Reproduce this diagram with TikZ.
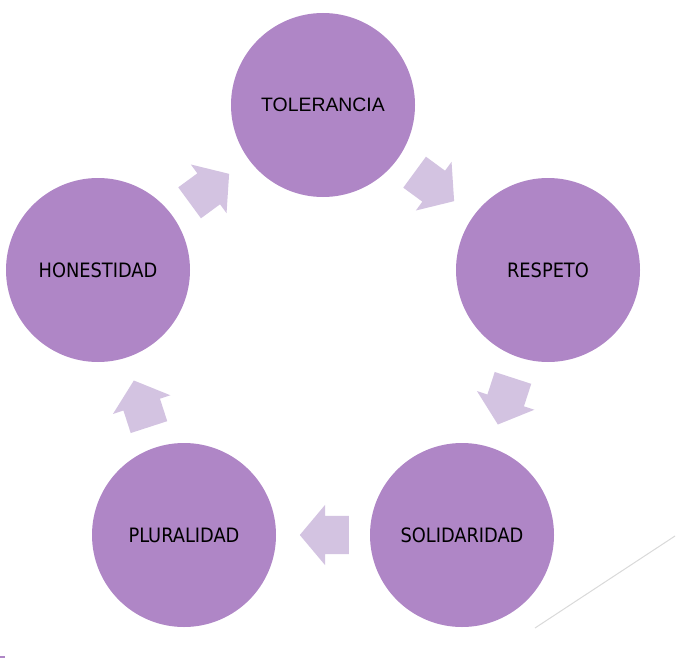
\documentclass[tikz,border=0pt]{standalone}
\usepackage{fontspec}
\setmainfont{DejaVu Sans Condensed}
\newfontfamily\arialfont{Liberation Sans}
\usetikzlibrary{shapes.arrows}

\definecolor{lila}{RGB}{175,134,198}
\definecolor{lilaclaro}{RGB}{211,195,225}
\definecolor{lineagris}{RGB}{217,217,217}

\begin{document}
\begin{tikzpicture}[x=1pt, y=-1pt,
  valor/.style={circle, fill=lila, minimum size=184pt, inner sep=0pt, text=black,
    font=\fontsize{19.8}{22}\selectfont},
  flecha/.style={single arrow, fill=lilaclaro, minimum height=49pt,
    inner xsep=0pt, inner ysep=19pt, single arrow head extend=11pt,
    single arrow tip angle=100, sloped, allow upside down, pos=0.4}]
\useasboundingbox (0,0) rectangle (682,658);

% Circles
\node[valor, font=\arialfont\fontsize{19.4}{22}\selectfont] (tol) at (323,105) {TOLERANCIA};
\node[valor] (res) at (548,270) {RESPETO};
\node[valor] (sol) at (462,535) {SOLIDARIDAD};
\node[valor] (plu) at (184,535) {PLURALIDAD};
\node[valor] (hon) at (98,270) {HONESTIDAD};

% Arrows between circles
\path (tol) -- node[flecha] {} (res);
\path (res) -- node[flecha] {} (sol);
\path (sol) -- node[flecha] {} (plu);
\path (plu) -- node[flecha] {} (hon);
\path (hon) -- node[flecha] {} (tol);

% Marks at the edges
\draw[lineagris, line width=1pt] (535,628) -- (675,536);
\fill[lila] (0,655.5) rectangle (5,658);
\end{tikzpicture}
\end{document}
